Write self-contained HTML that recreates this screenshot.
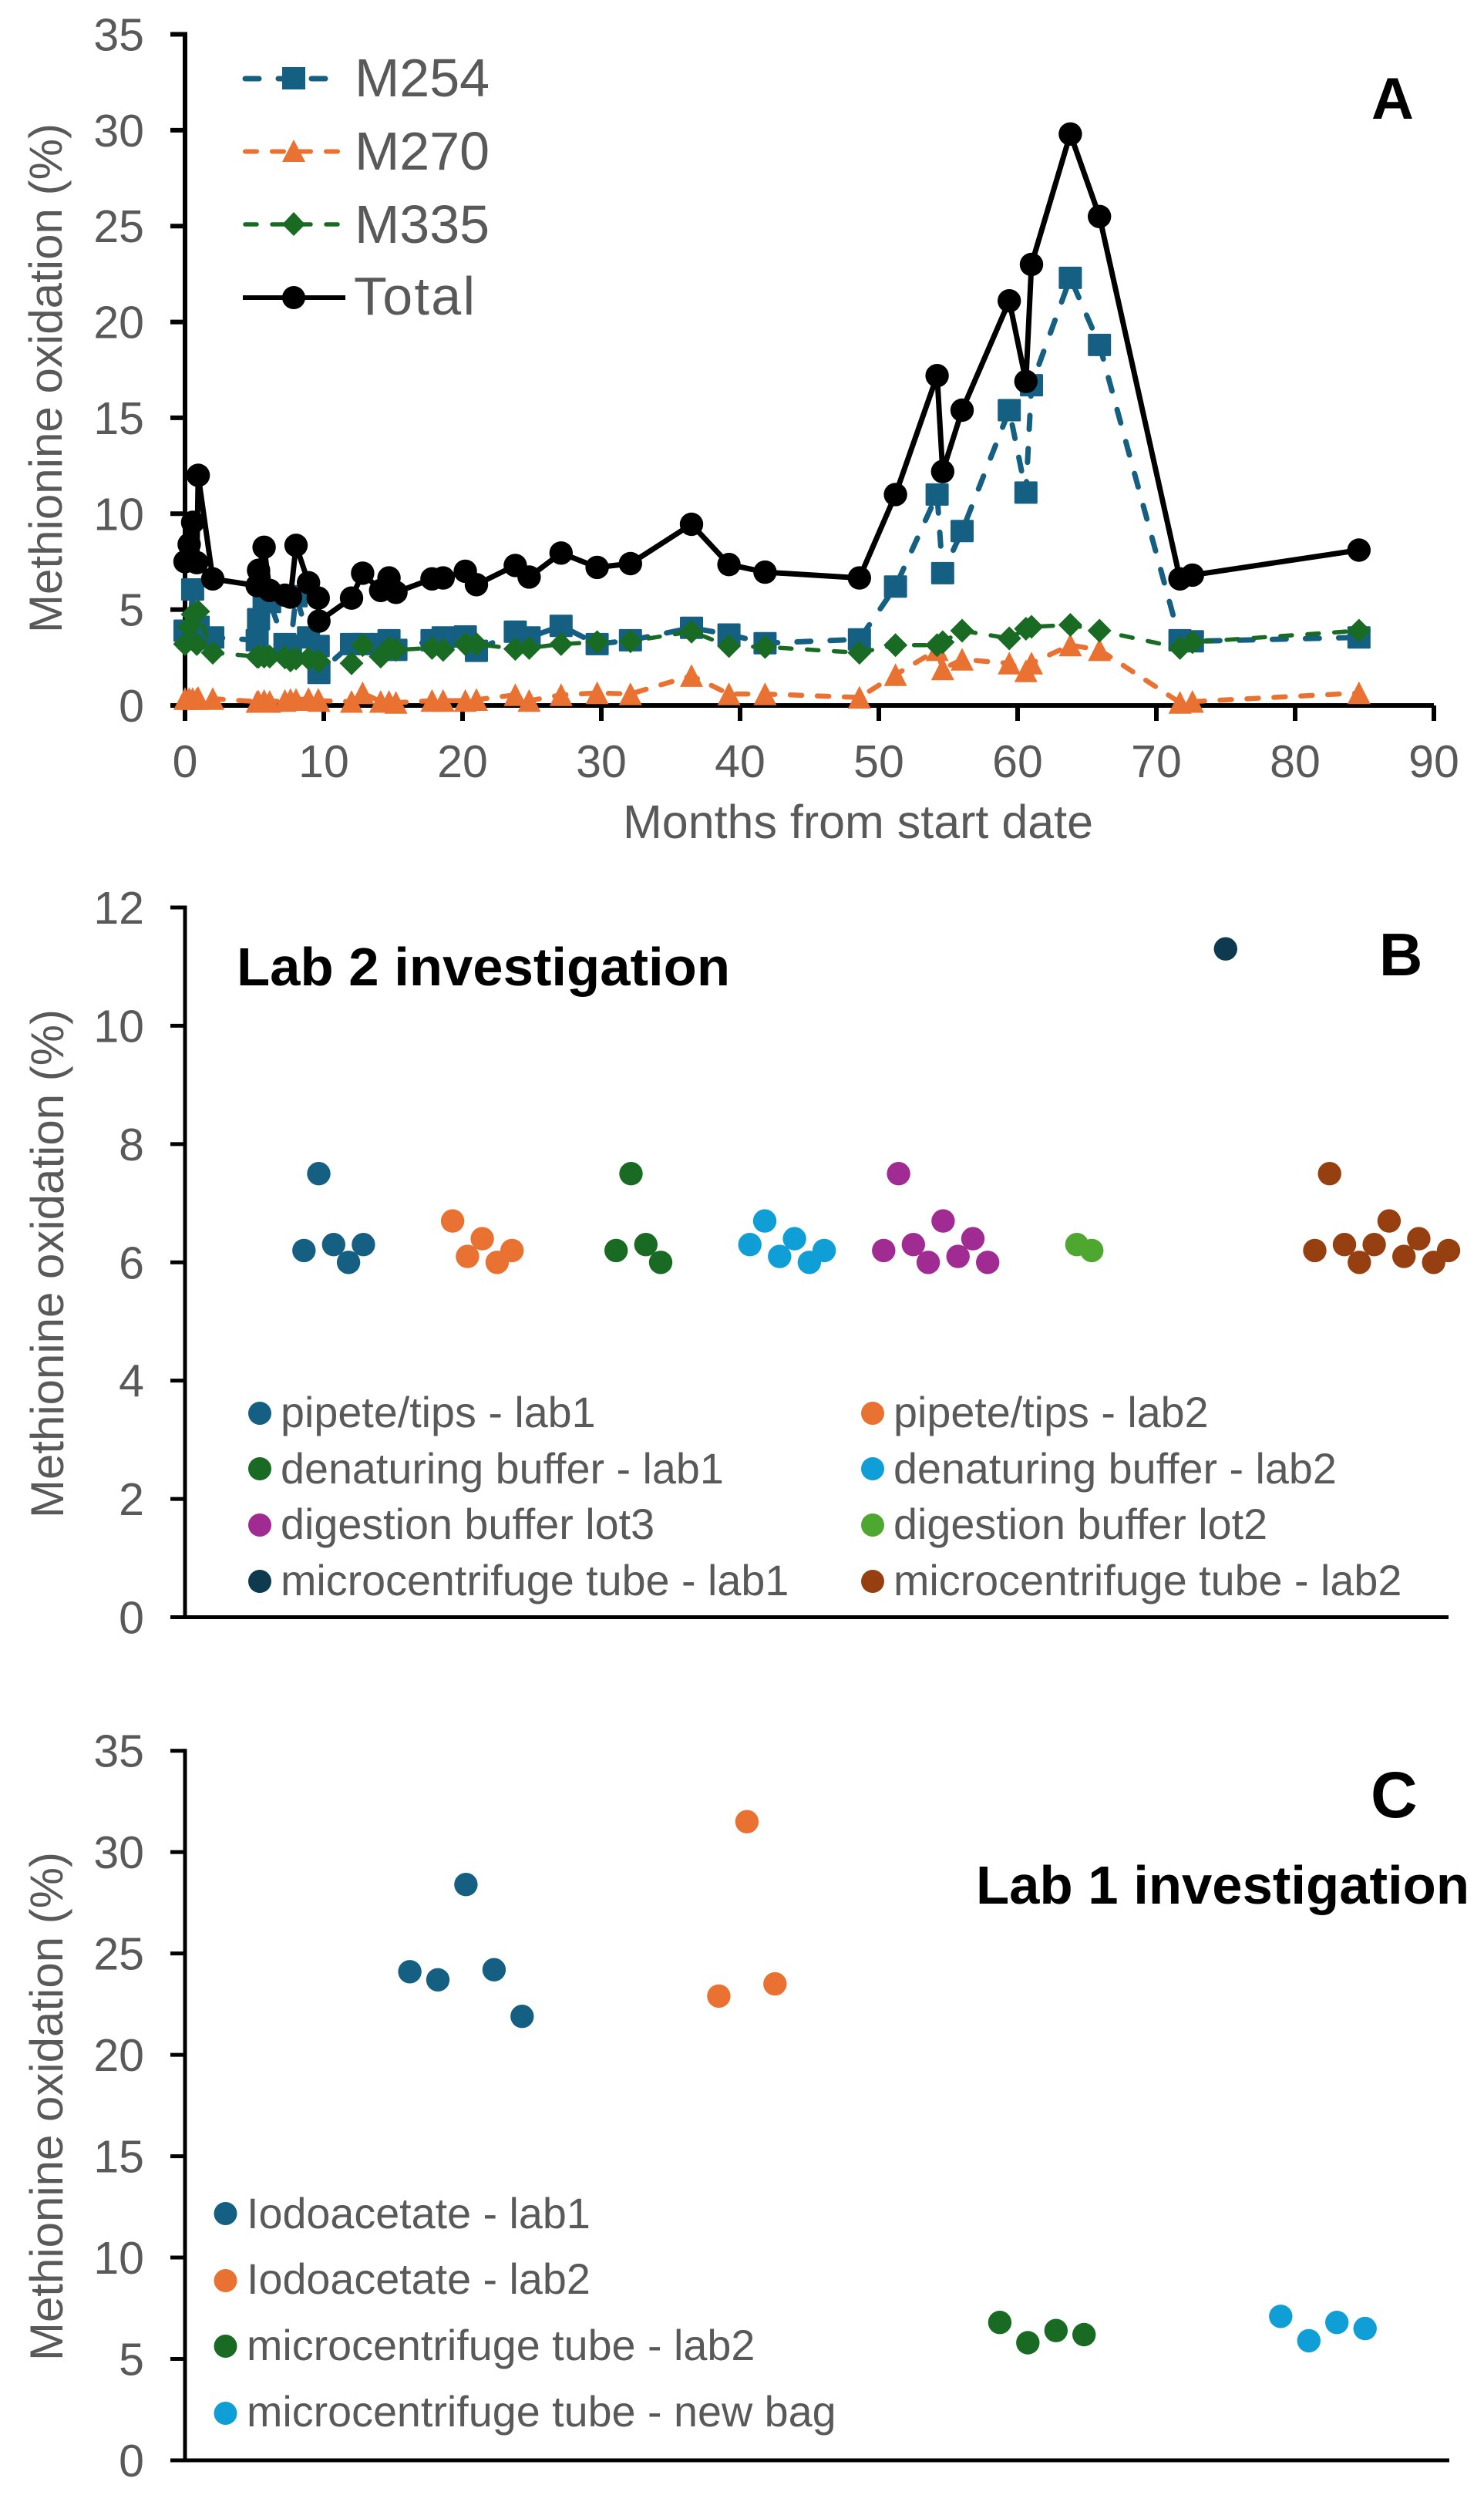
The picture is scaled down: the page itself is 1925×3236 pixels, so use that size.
<!DOCTYPE html>
<html lang="en">
<head>
<meta charset="utf-8">
<title>Methionine oxidation charts</title>
<style>
html,body{margin:0;padding:0;background:#fff;}
svg{display:block;font-family:"Liberation Sans",Arial,sans-serif;}
.tick{font-size:59px;fill:#595959;}
.title{font-size:60px;fill:#595959;}
.lg{font-size:55.7px;fill:#595959;}
.lgA{font-size:70px;fill:#595959;}
.bold{font-weight:bold;fill:#000;}
</style>
</head>
<body>
<svg id="fig" xmlns="http://www.w3.org/2000/svg" width="1925" height="3236" viewBox="0 0 1925 3236">
  <rect x="0" y="0" width="1925" height="3236" fill="#fff"/>

  <!-- Panel A static text -->
  <text class="title" transform="translate(80,821) rotate(-90)" textLength="661" lengthAdjust="spacingAndGlyphs">Methionine oxidation (%)</text>
  <text class="title" x="808" y="1087" style="font-size:61px" textLength="610" lengthAdjust="spacingAndGlyphs">Months from start date</text>
  <text class="bold" x="1779" y="154" style="font-size:76px">A</text>
  <text class="lgA" x="460" y="125">M254</text>
  <text class="lgA" x="460" y="220">M270</text>
  <text class="lgA" x="460" y="315">M335</text>
  <text class="lgA" x="459" y="408" textLength="157" lengthAdjust="spacing">Total</text>

  <!-- Panel B static text -->
  <text class="title" transform="translate(82,1969) rotate(-90)" textLength="660" lengthAdjust="spacingAndGlyphs">Methionine oxidation (%)</text>
  <text class="bold" x="307" y="1278" style="font-size:70px" textLength="640" lengthAdjust="spacingAndGlyphs">Lab 2 investigation</text>
  <text class="bold" x="1789" y="1265" style="font-size:78px">B</text>

  <!-- Panel C static text -->
  <text class="title" transform="translate(81,3062) rotate(-90)" textLength="660" lengthAdjust="spacingAndGlyphs">Methionine oxidation (%)</text>
  <text class="bold" x="1266" y="2469" style="font-size:70px" textLength="640" lengthAdjust="spacingAndGlyphs">Lab 1 investigation</text>
  <text class="bold" x="1778" y="2357" style="font-size:84px">C</text>

  <!-- Legend text B -->
  <text class="lg" x="364" y="1851">pipete/tips - lab1</text>
  <text class="lg" x="364" y="1924">denaturing buffer - lab1</text>
  <text class="lg" x="364" y="1996">digestion buffer lot3</text>
  <text class="lg" x="364" y="2069">microcentrifuge tube - lab1</text>
  <text class="lg" x="1159" y="1851">pipete/tips - lab2</text>
  <text class="lg" x="1159" y="1924">denaturing buffer - lab2</text>
  <text class="lg" x="1159" y="1996">digestion buffer lot2</text>
  <text class="lg" x="1159" y="2069">microcentrifuge tube - lab2</text>

  <!-- Legend text C -->
  <text class="lg" x="320" y="2890">Iodoacetate - lab1</text>
  <text class="lg" x="320" y="2975">Iodoacetate - lab2</text>
  <text class="lg" x="320" y="3061">microcentrifuge tube - lab2</text>
  <text class="lg" x="320" y="3147">microcentrifuge tube - new bag</text>

  <!-- Legend swatches B -->
  <circle cx="337" cy="1833" r="15" fill="#156082"/>
  <circle cx="337" cy="1905" r="15" fill="#196B24"/>
  <circle cx="337" cy="1978" r="15" fill="#A02B93"/>
  <circle cx="337" cy="2051" r="15" fill="#0D3A4F"/>
  <circle cx="1132" cy="1833" r="15" fill="#E97132"/>
  <circle cx="1132" cy="1905" r="15" fill="#0F9ED5"/>
  <circle cx="1132" cy="1978" r="15" fill="#4EA72E"/>
  <circle cx="1132" cy="2051" r="15" fill="#963F10"/>

  <!-- Legend swatches C -->
  <circle cx="292.5" cy="2871" r="15" fill="#156082"/>
  <circle cx="292.5" cy="2958" r="15" fill="#E97132"/>
  <circle cx="292.5" cy="3043" r="15" fill="#196B24"/>
  <circle cx="292.5" cy="3130" r="15" fill="#0F9ED5"/>

  <!-- Legend A lines and markers -->
  <g>
    <line x1="318" x2="429" y1="102" y2="102" stroke="#156082" stroke-width="7" stroke-linecap="round" stroke-dasharray="18 25"/>
    <rect x="366" y="87" width="30" height="29" fill="#156082"/>
    <line x1="318" x2="442" y1="196.500" y2="196.500" stroke="#E97132" stroke-width="6" stroke-linecap="round" stroke-dasharray="15 20"/>
    <path d="M381 181 L396 210 L366 210 Z" fill="#E97132"/>
    <line x1="318" x2="442" y1="291" y2="291" stroke="#196B24" stroke-width="5.500" stroke-linecap="round" stroke-dasharray="15 20"/>
    <path d="M381 275 L396 291 L381 306 L366 291 Z" fill="#196B24"/>
    <line x1="315" x2="448" y1="386" y2="386" stroke="#000" stroke-width="6"/>
    <circle cx="381" cy="386" r="15" fill="#000"/>
  </g>

  <g id="panelA"></g>
  <g id="panelB"></g>
  <g id="panelC"></g>
</svg>

<script>
// ---------- Panel A data ----------
const monthsA = [0,0.3,0.55,0.85,0.95,2.0,5.2,5.3,5.7,6.1,7.2,7.6,8.0,8.9,9.6,9.65,12.0,12.8,14.1,14.7,15.2,17.8,18.6,20.2,21.0,23.8,24.8,27.1,29.7,32.1,36.5,39.2,41.8,48.6,51.2,54.2,54.6,56.0,59.4,60.6,61.0,63.8,65.9,71.7,72.6,84.6];
const m254 = [3.9,3.5,6.05,3.5,4.1,3.55,3.4,4.5,5.4,5.4,3.2,3.1,5.7,3.55,3.1,1.7,3.2,3.2,3.2,3.4,2.9,3.4,3.55,3.6,2.85,3.85,3.55,4.15,3.2,3.4,4.05,3.7,3.25,3.45,6.2,11.0,6.9,9.1,15.4,11.1,16.7,22.3,18.8,3.4,3.35,3.55];
const m270 = [0.35,0.35,0.35,0.35,0.4,0.35,0.2,0.2,0.25,0.2,0.25,0.3,0.3,0.35,0.3,0.25,0.2,0.65,0.2,0.2,0.15,0.25,0.25,0.25,0.3,0.55,0.25,0.55,0.65,0.6,1.55,0.6,0.6,0.42,1.6,2.9,1.9,2.4,2.2,1.8,2.2,3.15,2.9,0.15,0.2,0.65];
const m335 = [3.2,4.1,4.75,3.2,4.9,2.75,2.55,2.55,2.55,2.55,2.5,2.35,2.45,2.45,2.3,2.3,2.2,3.15,2.55,3.0,2.9,3.0,2.9,3.2,3.2,2.95,3.0,3.2,3.3,3.35,3.85,3.1,3.05,2.75,3.15,3.15,3.3,3.9,3.5,4.0,4.1,4.2,3.9,3.0,3.3,3.9];
const totalOx = [7.5,8.4,9.55,7.45,12.0,6.6,6.25,7.05,8.25,6.0,5.75,5.65,8.35,6.4,5.6,4.4,5.6,6.9,6.0,6.65,5.9,6.6,6.65,7.0,6.3,7.3,6.7,7.95,7.2,7.4,9.45,7.35,6.95,6.65,11.0,17.2,12.2,15.4,21.1,16.9,23.0,29.8,25.5,6.6,6.8,8.1];
const yTicksA = [0,5,10,15,20,25,30,35];
const xTicksA = [0,10,20,30,40,50,60,70,80,90];

// ---------- Panel B data ----------
const yTicksB = [0,2,4,6,8,10,12];
const pipeteLab1X = [8,9,10,11,12];
const pipeteLab1Y = [6.2,7.5,6.3,6.0,6.3];
const pipeteLab2X = [18,19,20,21,22];
const pipeteLab2Y = [6.7,6.1,6.4,6.0,6.2];
const denatLab1X = [29,30,31,32];
const denatLab1Y = [6.2,7.5,6.3,6.0];
const denatLab2X = [38,39,40,41,42,43];
const denatLab2Y = [6.3,6.7,6.1,6.4,6.0,6.2];
const digestLot3X = [47,48,49,50,51,52,53,54];
const digestLot3Y = [6.2,7.5,6.3,6.0,6.7,6.1,6.4,6.0];
const digestLot2X = [60,61];
const digestLot2Y = [6.3,6.2];
const tubeLab1X = [70];
const tubeLab1Y = [11.3];
const tubeLab2X = [76,77,78,79,80,81,82,83,84,85];
const tubeLab2Y = [6.2,7.5,6.3,6.0,6.3,6.7,6.1,6.4,6.0,6.2];

// ---------- Panel C data ----------
const yTicksC = [0,5,10,15,20,25,30,35];
const iodoLab1X = [8,9,10,11,12];
const iodoLab1Y = [24.1,23.7,28.4,24.2,21.9];
const iodoLab2X = [19,20,21];
const iodoLab2Y = [22.9,31.5,23.5];
const tubeCLab2X = [29,30,31,32];
const tubeCLab2Y = [6.8,5.8,6.4,6.2];
const tubeNewBagX = [39,40,41,42];
const tubeNewBagY = [7.1,5.9,6.8,6.5];

const NS = 'http://www.w3.org/2000/svg';
function mk(tag, parent){
  const el = document.createElementNS(NS, tag);
  parent.appendChild(el);
  return el;
}

// Axis functions
const axA = {x0:240, x1:1860, xMax:90, y0:915, y1:44.5, yMax:35};
const axB = {x0:240, x1:1879, xMax:85, y0:2097.5, y1:1177, yMax:12};
const axC = {x0:240, x1:1880, xMax:45, y0:3191, y1:2270.7, yMax:35};
function sx(ax,v){ return ax.x0 + (ax.x1-ax.x0)*v/ax.xMax; }
function sy(ax,v){ return ax.y0 - (ax.y0-ax.y1)*v/ax.yMax; }

function drawAxes(g, ax, yTicks, lw){
  const yl = mk('line', g);
  
  
  yl.setAttribute('x1', ax.x0); yl.setAttribute('x2', ax.x0);
  yl.setAttribute('y1', ax.y1 - lw/2); yl.setAttribute('y2', ax.y0 + lw/2);
  yl.setAttribute('stroke', '#000'); yl.setAttribute('stroke-width', lw);
  const xl = mk('line', g);
  
  
  xl.setAttribute('x1', ax.x0); xl.setAttribute('x2', ax.x1);
  xl.setAttribute('y1', ax.y0); xl.setAttribute('y2', ax.y0);
  xl.setAttribute('stroke', '#000'); xl.setAttribute('stroke-width', lw);
  yTicks.forEach(function(t){
    const y = sy(ax,t);
    const tk = mk('line', g);
    
    
    tk.setAttribute('x1', ax.x0-19); tk.setAttribute('x2', ax.x0);
    tk.setAttribute('y1', y); tk.setAttribute('y2', y);
    tk.setAttribute('stroke', '#000'); tk.setAttribute('stroke-width', lw);
    const lb = mk('text', g);
    
    
    lb.setAttribute('class', 'tick');
    lb.setAttribute('x', 187);
    lb.setAttribute('y', y+21);
    lb.setAttribute('text-anchor', 'end');
    lb.textContent = t;
  });
}

function drawLine(g, ax, xs, ys, color, w, dash){
  const p = mk('polyline', g);
  
  
  p.setAttribute('points', xs.map(function(x,i){ return sx(ax,x).toFixed(1)+','+sy(ax,ys[i]).toFixed(1); }).join(' '));
  p.setAttribute('fill', 'none');
  p.setAttribute('stroke', color);
  p.setAttribute('stroke-width', w);
  p.setAttribute('stroke-linejoin', 'round');
  if(dash){
    p.setAttribute('stroke-dasharray', dash);
    p.setAttribute('stroke-linecap', 'round');
  }
}

function drawDots(g, ax, xs, ys, color){
  xs.forEach(function(x,i){
    const c = mk('circle', g);
    
    
    c.setAttribute('cx', sx(ax,x).toFixed(1));
    c.setAttribute('cy', sy(ax,ys[i]).toFixed(1));
    c.setAttribute('r', 15.2);
    c.setAttribute('fill', color);
  });
}

function drawSquares(g, ax, xs, ys, color){
  xs.forEach(function(x,i){
    const r = mk('rect', g);
    
    
    r.setAttribute('x', (sx(ax,x)-15).toFixed(1));
    r.setAttribute('y', (sy(ax,ys[i])-14.5).toFixed(1));
    r.setAttribute('width', 30);
    r.setAttribute('height', 29);
    r.setAttribute('rx', 1.5);
    r.setAttribute('fill', color);
  });
}

function drawTriangles(g, ax, xs, ys, color){
  xs.forEach(function(x,i){
    const cx = sx(ax,x), cy = sy(ax,ys[i]);
    const p = mk('path', g);
    
    
    p.setAttribute('d', 'M'+cx.toFixed(1)+' '+(cy-15).toFixed(1)+' L'+(cx+15).toFixed(1)+' '+(cy+14.5).toFixed(1)+' L'+(cx-15).toFixed(1)+' '+(cy+14.5).toFixed(1)+' Z');
    p.setAttribute('fill', color);
  });
}

function drawDiamonds(g, ax, xs, ys, color){
  xs.forEach(function(x,i){
    const cx = sx(ax,x), cy = sy(ax,ys[i]);
    const p = mk('path', g);
    
    
    p.setAttribute('d', 'M'+cx.toFixed(1)+' '+(cy-15.5).toFixed(1)+' L'+(cx+15.5).toFixed(1)+' '+cy.toFixed(1)+' L'+cx.toFixed(1)+' '+(cy+15.5).toFixed(1)+' L'+(cx-15.5).toFixed(1)+' '+cy.toFixed(1)+' Z');
    p.setAttribute('fill', color);
  });
}

// Panel A
const gA = document.getElementById('panelA');
drawAxes(gA, axA, yTicksA, 6);
xTicksA.forEach(function(t){
  const x = sx(axA,t);
  const tk = mk('line', gA);
  
  
  tk.setAttribute('x1', x); tk.setAttribute('x2', x);
  tk.setAttribute('y1', axA.y0); tk.setAttribute('y2', axA.y0+20);
  tk.setAttribute('stroke', '#000'); tk.setAttribute('stroke-width', 6);
  const lb = mk('text', gA);
  
  
  lb.setAttribute('class', 'tick');
  lb.setAttribute('x', x);
  lb.setAttribute('y', 1008);
  lb.setAttribute('text-anchor', 'middle');
  lb.textContent = t;
});
drawLine(gA, axA, monthsA, m254, '#156082', 7, '18 25');
drawSquares(gA, axA, monthsA, m254, '#156082');
drawLine(gA, axA, monthsA, m270, '#E97132', 6.5, '15 20');
drawTriangles(gA, axA, monthsA, m270, '#E97132');
drawLine(gA, axA, monthsA, m335, '#196B24', 5.5, '15 20');
drawDiamonds(gA, axA, monthsA, m335, '#196B24');
drawLine(gA, axA, monthsA, totalOx, '#000000', 7, null);
drawDots(gA, axA, monthsA, totalOx, '#000000');

// Panel B
const gB = document.getElementById('panelB');
drawAxes(gB, axB, yTicksB, 5);
drawDots(gB, axB, pipeteLab1X, pipeteLab1Y, '#156082');
drawDots(gB, axB, pipeteLab2X, pipeteLab2Y, '#E97132');
drawDots(gB, axB, denatLab1X, denatLab1Y, '#196B24');
drawDots(gB, axB, denatLab2X, denatLab2Y, '#0F9ED5');
drawDots(gB, axB, digestLot3X, digestLot3Y, '#A02B93');
drawDots(gB, axB, digestLot2X, digestLot2Y, '#4EA72E');
drawDots(gB, axB, tubeLab1X, tubeLab1Y, '#0D3A4F');
drawDots(gB, axB, tubeLab2X, tubeLab2Y, '#963F10');

// Panel C
const gC = document.getElementById('panelC');
drawAxes(gC, axC, yTicksC, 5);
drawDots(gC, axC, iodoLab1X, iodoLab1Y, '#156082');
drawDots(gC, axC, iodoLab2X, iodoLab2Y, '#E97132');
drawDots(gC, axC, tubeCLab2X, tubeCLab2Y, '#196B24');
drawDots(gC, axC, tubeNewBagX, tubeNewBagY, '#0F9ED5');
</script>
</body>
</html>
